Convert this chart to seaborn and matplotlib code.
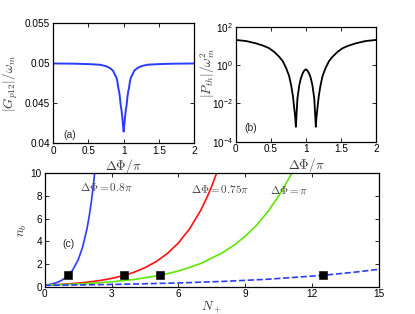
import numpy as np
import pandas as pd
import matplotlib
matplotlib.use("Agg")
import matplotlib.pyplot as plt
import seaborn as sns

# ---------------- data ----------------
# panel (a): |G_p12|/omega_m vs dPhi/pi
a_x = [0.0, 0.3, 0.5, 0.665, 0.75, 0.807, 0.85, 0.878, 0.89, 0.9, 0.91, 0.925, 0.935, 0.945, 0.958,
       0.97, 0.979, 0.986, 0.993, 1.0,
       1.007, 1.014, 1.021, 1.03, 1.042, 1.055, 1.065, 1.075, 1.09, 1.1, 1.11, 1.122, 1.15, 1.193,
       1.25, 1.335, 1.5, 1.7, 2.0]
a_y = [0.04998, 0.04995, 0.0499, 0.04982, 0.04964, 0.0494, 0.04907, 0.04854, 0.04835, 0.04815,
       0.04778, 0.04688, 0.0465, 0.0459, 0.04479, 0.04411, 0.04342, 0.04271, 0.04206, 0.04146,
       0.04206, 0.04271, 0.04342, 0.04411, 0.04479, 0.0459, 0.0465, 0.04688, 0.04778, 0.04815,
       0.04835, 0.04854, 0.04907, 0.0494, 0.04964, 0.04982, 0.0499, 0.04995, 0.04998]

# panel (b): |P_th|/omega_m^2 vs dPhi/pi
b_x = [0.0, 0.15, 0.29, 0.4, 0.48, 0.55, 0.62, 0.67, 0.72, 0.76, 0.79, 0.815, 0.835, 0.85, 0.858,
       0.87, 0.88, 0.907, 0.93, 0.955, 0.975, 1.0,
       1.025, 1.045, 1.07, 1.093, 1.12, 1.13, 1.142, 1.15, 1.165, 1.185, 1.21, 1.24, 1.28, 1.33,
       1.38, 1.45, 1.52, 1.6, 1.71, 1.85, 2.0]
b_y = [20.4, 17.8, 13.5, 10.0, 7.4, 4.8, 2.7, 1.6, 0.68, 0.28, 0.091, 0.025, 0.0055, 0.0016, 0.0006,
       0.004, 0.018, 0.091, 0.21, 0.37, 0.5, 0.6,
       0.5, 0.37, 0.21, 0.091, 0.018, 0.004, 0.0006, 0.0016, 0.0055, 0.025, 0.091, 0.28, 0.68, 1.6,
       2.7, 4.8, 7.4, 10.0, 13.5, 17.8, 20.4]

# panel (c): n_b vs N_+
c08_x = [0.0, 0.25, 0.5, 0.75, 1.0, 1.06, 1.25, 1.5, 1.7, 1.9, 2.0, 2.1, 2.2, 2.24]
c08_y = [0.127, 0.206, 0.336, 0.546, 0.89, 1.0, 1.45, 2.36, 3.48, 5.14, 6.25, 7.6, 9.23, 10.0]
c075_x = [0.0, 0.5, 1.0, 1.5, 2.0, 2.5, 3.0, 3.57, 4.0, 4.5, 5.0, 5.5, 6.0, 6.5, 7.0, 7.3, 7.5, 7.71]
c075_y = [0.137, 0.181, 0.24, 0.316, 0.418, 0.552, 0.728, 1.0, 1.27, 1.68, 2.21, 2.92, 3.86, 5.1, 6.73,
          7.96, 8.89, 10.0]
c1_x = [0.0, 1.0, 2.0, 3.0, 4.0, 5.17, 6.0, 7.0, 8.0, 8.5, 9.0, 9.5, 10.0, 10.5, 10.8, 11.08]
c1_y = [0.133, 0.197, 0.29, 0.429, 0.634, 1.0, 1.38, 2.04, 3.02, 3.67, 4.45, 5.41, 6.58, 8.0, 8.99, 10.0]
cd_x = [0.0, 2.0, 4.0, 6.0, 8.0, 10.0, 12.47, 14.0, 15.0]
cd_y = [0.119, 0.167, 0.235, 0.331, 0.466, 0.656, 1.0, 1.30, 1.54]
sq_x = [1.06, 3.57, 5.17, 12.47]
sq_y = [1.0, 1.0, 1.0, 1.0]

a_ticks_x = [0, 0.5, 1, 1.5, 2]
a_ticklabels_x = ["0", "0.5", "1", "1.5", "2"]
a_ticks_y = [0.04, 0.045, 0.05, 0.055]
a_ticklabels_y = ["0.04", "0.045", "0.05", "0.055"]
b_ticks_y = [1e-4, 1e-2, 1e0, 1e2]
b_ticklabels_y = [r"$\mathregular{10^{-4}}$", r"$\mathregular{10^{-2}}$",
                  r"$\mathregular{10^{0}}$", r"$\mathregular{10^{2}}$"]
c_ticks_x = [0, 3, 6, 9, 12, 15]
c_ticks_y = [0, 2, 4, 6, 8, 10]

# ---------------- style ----------------
sns.set_style("ticks")
plt.rcParams["font.family"] = ["Liberation Sans", "DejaVu Sans"]
plt.rcParams["mathtext.fontset"] = "cm"
plt.rcParams["xtick.direction"] = "in"
plt.rcParams["ytick.direction"] = "in"
plt.rcParams["xtick.top"] = True
plt.rcParams["ytick.right"] = True
plt.rcParams["xtick.major.size"] = 3
plt.rcParams["ytick.major.size"] = 3
plt.rcParams["xtick.major.width"] = 0.6
plt.rcParams["ytick.major.width"] = 0.6
plt.rcParams["axes.linewidth"] = 0.9
plt.rcParams["axes.edgecolor"] = "black"

BLUE = "#2a3cff"
RED = "#ff1010"
GREEN = "#5fe600"
LABC = "#3a3a3a"

fig = plt.figure(figsize=(4.15, 3.14), dpi=100)
W, H = 415.0, 314.0


def place(l, t, r, b):
    return fig.add_axes([l / W, 1 - b / H, (r - l) / W, (b - t) / H])


axa = place(53, 23.3, 194.3, 143.3)
axb = place(235.7, 26.7, 376, 141.7)
axc = place(44.7, 173.3, 379, 286.7)

tick_fs = 7.2
lab_fs = 9.5

# panel a
dfa = pd.DataFrame({"x": a_x, "y": a_y})
sns.lineplot(data=dfa, x="x", y="y", ax=axa, color=BLUE, lw=1.4, sort=False, estimator=None)
axa.set_xlim(0, 2)
axa.set_ylim(0.04, 0.055)
axa.set_xticks(a_ticks_x)
axa.set_xticklabels(a_ticklabels_x)
axa.set_yticks(a_ticks_y)
axa.set_yticklabels(a_ticklabels_y)
axa.set_xlabel(r"$\Delta\Phi/\pi$", fontsize=lab_fs, color=LABC, labelpad=1)
axa.set_ylabel(r"$|G_{p12}|/\omega_m$", fontsize=lab_fs, color=LABC)
axa.yaxis.set_label_coords(-0.235, 0.5)
axa.text(0.07, 0.07, "(a)", transform=axa.transAxes, fontsize=7.5, va="center", ha="left")

# panel b
dfb = pd.DataFrame({"x": b_x, "y": b_y})
sns.lineplot(data=dfb, x="x", y="y", ax=axb, color="black", lw=1.3, sort=False, estimator=None)
axb.set_yscale("log")
axb.set_xlim(0, 2)
axb.set_ylim(1e-4, 1e2)
axb.set_xticks(a_ticks_x)
axb.set_xticklabels(a_ticklabels_x)
axb.set_yticks(b_ticks_y)
axb.set_yticklabels(b_ticklabels_y)
axb.yaxis.set_minor_locator(matplotlib.ticker.NullLocator())
axb.set_xlabel(r"$\Delta\Phi/\pi$", fontsize=lab_fs, color=LABC, labelpad=1)
axb.set_ylabel(r"$|P_{th}|/\omega_m^2$", fontsize=lab_fs, color=LABC)
axb.yaxis.set_label_coords(-0.135, 0.6)
axb.text(0.06, 0.117, "(b)", transform=axb.transAxes, fontsize=7.5, va="center", ha="left")

# panel c
for xs, ys, col, ls in [(c08_x, c08_y, BLUE, "-"), (c075_x, c075_y, RED, "-"),
                        (c1_x, c1_y, GREEN, "-"), (cd_x, cd_y, BLUE, "--")]:
    d = pd.DataFrame({"x": xs, "y": ys})
    sns.lineplot(data=d, x="x", y="y", ax=axc, color=col, lw=1.2, linestyle=ls,
                 sort=False, estimator=None)
dsq = pd.DataFrame({"x": sq_x, "y": sq_y})
sns.scatterplot(data=dsq, x="x", y="y", ax=axc, marker="s", s=26, color="black",
                edgecolor="black", zorder=5)
axc.set_xlim(0, 15)
axc.set_ylim(0, 10)
axc.set_xticks(c_ticks_x)
axc.set_yticks(c_ticks_y)
axc.set_xlabel(r"$N_+$", fontsize=lab_fs, color=LABC, labelpad=0)
axc.set_ylabel(r"$n_b$", fontsize=lab_fs, color=LABC)
axc.yaxis.set_label_coords(-0.048, 0.5)
axc.text(1.58, 8.75, r"$\Delta\Phi=0.8\pi$", fontsize=8, color="#444444", va="center", ha="left")
axc.text(6.57, 8.6, r"$\Delta\Phi=0.75\pi$", fontsize=8, color="#444444", va="center", ha="left")
axc.text(10.13, 8.5, r"$\Delta\Phi=\pi$", fontsize=8, color="#444444", va="center", ha="left")
axc.text(1.09, 3.8, "(c)", fontsize=7.5, va="center", ha="center")

for ax in (axa, axb, axc):
    ax.tick_params(labelsize=tick_fs, pad=2, colors="black")
    for s in ax.spines.values():
        s.set_visible(True)
        s.set_color("black")

fig.savefig("out.png", dpi=100)
